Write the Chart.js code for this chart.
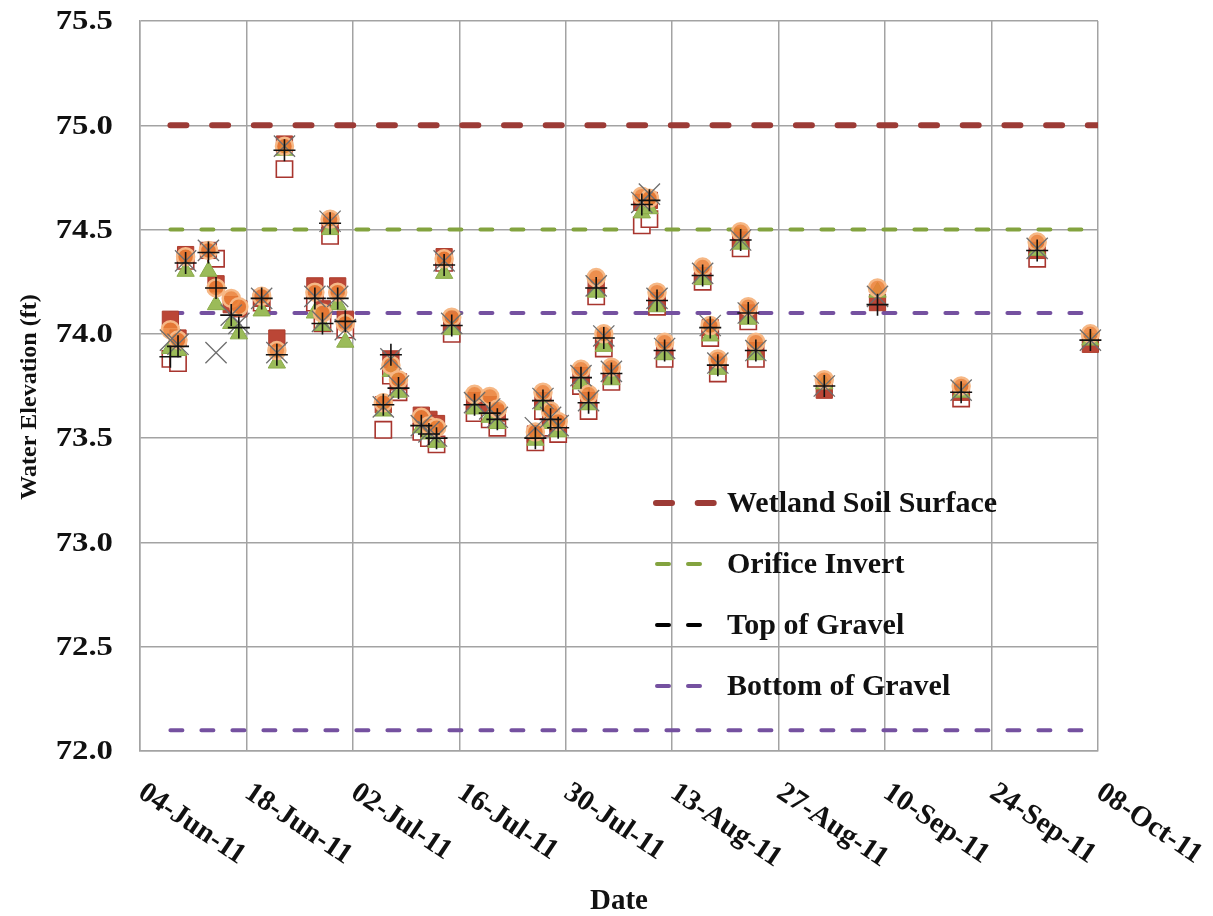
<!DOCTYPE html>
<html>
<head>
<meta charset="utf-8">
<script src="https://cdn.jsdelivr.net/npm/chart.js@4.4.1/dist/chart.umd.min.js"></script>
<style>
  html, body { margin: 0; padding: 0; background: #ffffff; }
  #wrap { width: 1213px; height: 916px; position: relative; }
</style>
</head>
<body>
<div id="wrap"><canvas id="chart" width="1213" height="916"></canvas></div>
<script>
// Date axis: values are days after 04-Jun-11, one gridline every 14 days
const tickDays = [0, 14, 28, 42, 56, 70, 84, 98, 112, 126];
const tickLabels = ['04-Jun-11', '18-Jun-11', '02-Jul-11', '16-Jul-11', '30-Jul-11',
                    '13-Aug-11', '27-Aug-11', '10-Sep-11', '24-Sep-11', '08-Oct-11'];

// Elevation axis (ft)
const yMin = 72.0;
const yMax = 75.5;
const yStep = 0.5;
const yTitle = 'Water Elevation (ft)';
const xTitle = 'Date';

// Sampling days (days after 04-Jun-11)
const sampleDays = [4, 5, 6, 9, 10, 12, 13, 16, 18, 19,
                    23, 24, 25, 26, 27, 32, 33, 34, 37, 38,
                    39, 40, 41, 44, 46, 47, 52, 53, 54, 55,
                    58, 59, 60, 61, 62, 66, 67, 68, 69, 74,
                    75, 76, 79, 80, 81, 90, 97, 108, 118, 125];

// Water elevations (ft) at each well
const wellA = [74.07, 73.98, 74.38, 74.40, 74.24, 74.14, 74.12, 74.17, 73.98, 74.91,
               74.23, 74.12, 74.52, 74.23, 74.07, 73.66, 73.88, 73.77, 73.61, 73.59,
               73.57, 74.37, 74.06, 73.68, 73.66, 73.62, 73.52, 73.68, 73.60, 73.57,
               73.80, 73.68, 74.22, 73.97, 73.81, 74.63, 74.64, 74.16, 73.92, 74.28,
               74.03, 73.85, 74.45, 74.10, 73.92, 73.73, 74.15, 73.72, 74.40, 73.95];
const wellB = [73.88, 73.86, 74.35, null, 74.36, null, null, 74.15, null, 74.79,
               74.15, 74.05, 74.47, null, 74.02, 73.54, 73.80, 73.72, 73.53, 73.50,
               73.47, 74.34, 74.00, 73.62, 73.59, 73.55, 73.48, 73.63, 73.55, 73.52,
               73.75, 73.63, 74.18, 73.93, 73.77, 74.52, 74.55, 74.13, 73.88, 74.25,
               73.98, 73.81, 74.41, 74.06, 73.88, null, null, 73.69, 74.36, null];
const wellC = [73.93, 73.92, 74.30, 74.30, 74.14, 74.05, 74.00, 74.11, 73.86, 74.88,
               74.10, 74.04, 74.50, 74.14, 73.96, 73.63, 73.82, 73.72, 73.55, 73.52,
               73.48, 74.29, 74.02, 73.64, 73.60, 73.57, 73.49, 73.66, 73.57, 73.53,
               73.76, 73.66, 74.20, 73.94, 73.78, 74.58, 74.60, 74.13, 73.90, 74.26,
               73.99, 73.83, 74.43, 74.07, 73.90, 73.76, 74.20, 73.72, 74.40, 73.97];
const wellD = [74.02, 73.97, 74.37, 74.40, 74.22, 74.17, 74.13, 74.18, 73.92, 74.90,
               74.20, 74.10, 74.55, 74.20, 74.05, 73.67, 73.85, 73.78, 73.60, 73.56,
               73.55, 74.36, 74.08, 73.71, 73.70, 73.64, 73.53, 73.72, 73.63, 73.58,
               73.83, 73.71, 74.27, 74.00, 73.84, 74.66, 74.65, 74.20, 73.96, 74.32,
               74.04, 73.88, 74.49, 74.13, 73.96, 73.78, 74.22, 73.75, 74.44, 74.00];
const wellE = [73.97, 73.95, 74.35, 74.40, 73.91, 74.09, 74.05, 74.17, 73.91, 74.90,
               74.18, 74.06, 74.54, 74.18, 74.02, 73.65, 73.88, 73.75, 73.56, 73.53,
               73.51, 74.35, 74.05, 73.67, 73.64, 73.60, 73.55, 73.69, 73.60, 73.56,
               73.80, 73.68, 74.23, 73.99, 73.82, 74.63, 74.67, 74.17, 73.93, 74.29,
               74.04, 73.86, 74.45, 74.10, 73.92, 73.75, 74.18, 73.73, 74.41, 73.97];
const wellF = [73.89, 73.94, 74.34, 74.39, 74.22, 74.09, 74.03, 74.17, 73.90, 74.88,
               74.17, 74.05, 74.53, 74.17, 74.06, 73.66, 73.90, 73.74, 73.56, 73.52,
               73.50, 74.33, 74.04, 73.66, 73.62, 73.59, 73.50, 73.68, 73.59, 73.55,
               73.79, 73.67, 74.22, 73.98, 73.81, 74.62, 74.64, 74.16, 73.92, 74.28,
               74.03, 73.85, 74.45, 74.10, 73.92, 73.75, 74.14, 73.72, 74.40, 73.97];

// Reference elevations (ft) and the span of days they are drawn over
const referenceNames = ['Wetland Soil Surface', 'Orifice Invert', 'Top of Gravel', 'Bottom of Gravel'];
const referenceLevels = [75.0, 74.5, 74.1, 72.1];
const referenceSpan = [4, 126];

const SERIF = '"Liberation Serif", "Times New Roman", serif';

function points(values) {
  const out = [];
  values.forEach((v, i) => { if (v !== null) out.push({ x: sampleDays[i], y: v }); });
  return out;
}
function levelLine(level) {
  return referenceSpan.map(d => ({ x: d, y: level }));
}

const wellStyles = [
  { data: wellF, pointStyle: 'cross',    radius: 11, bg: '#111111', border: '#111111', bw: 1.6, order: 1 },
  { data: wellE, pointStyle: 'crossRot', radius: 15, bg: '#6e6e6e', border: '#6e6e6e', bw: 1.3, order: 2 },
  { data: wellD, pointStyle: 'circle',   radius: 8.5, bg: 'rgba(234,128,54,0.88)', border: '#f6b886', bw: 2.5, order: 3 },
  { data: wellC, pointStyle: 'triangle', radius: 10, bg: '#9bbb59', border: '#8aab4a', bw: 1, order: 4 },
  { data: wellA, pointStyle: 'rect',     radius: 11.5, bg: '#bb4636', border: '#ad3d2d', bw: 1, order: 5 },
  { data: wellB, pointStyle: 'rect',     radius: 11.5, bg: '#ffffff', border: '#a8352e', bw: 1.6, order: 6 }
];

const lineStyles = [
  { color: '#9c3b36', legendColor: '#9c3b36', width: 6, dash: [16, 25.7] },
  { color: '#83a33f', legendColor: '#83a33f', width: 4, dash: [12, 19] },
  { color: '#7551a0', legendColor: '#000000', width: 4, dash: [12, 19] },
  { color: '#7551a0', legendColor: '#7551a0', width: 4, dash: [12, 19] }
];

const datasets = [];
wellStyles.forEach(s => {
  datasets.push({
    type: 'scatter',
    data: points(s.data),
    pointStyle: s.pointStyle,
    pointRadius: s.radius,
    pointBackgroundColor: s.bg,
    pointBorderColor: s.border,
    pointBorderWidth: s.bw,
    showLine: false,
    order: s.order,
    clip: false
  });
});
referenceLevels.forEach((lvl, i) => {
  const st = lineStyles[i];
  datasets.push({
    type: 'line',
    label: referenceNames[i],
    data: levelLine(lvl),
    borderColor: st.color,
    borderWidth: st.width,
    borderDash: st.dash,
    borderCapStyle: 'round',
    pointRadius: 0,
    fill: false,
    order: 10 + (referenceLevels.length - i),
    legendColor: st.legendColor,
    inLegend: true
  });
});

// Elevation tick labels and the vertical axis title
const elevationLabelsPlugin = {
  id: 'elevationLabels',
  afterDraw(chart) {
    const s = chart.scales.y;
    const ctx = chart.ctx;
    ctx.save();
    ctx.font = 'bold 28px ' + SERIF;
    ctx.fillStyle = '#111111';
    ctx.textAlign = 'right';
    ctx.textBaseline = 'middle';
    s.ticks.forEach(t => {
      const py = s.getPixelForValue(t.value);
      ctx.save();
      ctx.translate(s.right - 27, py + 1);
      ctx.scale(1.17, 1);
      ctx.fillText(Number(t.value).toFixed(1), 0, 0);
      ctx.restore();
    });
    const mid = (s.top + s.bottom) / 2 + 11;
    ctx.translate(30, mid);
    ctx.rotate(-Math.PI / 2);
    ctx.font = 'bold 24px ' + SERIF;
    ctx.textAlign = 'center';
    ctx.fillText(yTitle, 0, 0);
    ctx.restore();
  }
};

// Rotated date labels, running down and to the right from each gridline
const dateLabelsPlugin = {
  id: 'dateLabels',
  afterDraw(chart) {
    const s = chart.scales.x;
    const ctx = chart.ctx;
    ctx.save();
    ctx.font = 'bold 29px ' + SERIF;
    ctx.fillStyle = '#111111';
    ctx.textAlign = 'left';
    ctx.textBaseline = 'top';
    tickDays.forEach((d, i) => {
      const px = s.getPixelForValue(d);
      ctx.save();
      ctx.translate(px + 9, s.top + 27);
      ctx.rotate(34 * Math.PI / 180);
      ctx.fillText(tickLabels[i], 0, 0);
      ctx.restore();
    });
    ctx.restore();
  }
};

// Legend for the reference lines, placed inside the plot area
const lineLegendPlugin = {
  id: 'lineLegend',
  afterDraw(chart) {
    const ctx = chart.ctx;
    const area = chart.chartArea;
    const xText = area.left + 587;
    const y0 = area.top + 482;
    const step = 61;
    ctx.save();
    chart.data.datasets.filter(ds => ds.inLegend).forEach((ds, i) => {
      const y = y0 + i * step;
      const w = ds.borderWidth;
      const dash = ds.borderDash;
      const x0 = i === 0 ? area.left + 513 : area.left + 515;
      ctx.save();
      ctx.strokeStyle = ds.legendColor;
      ctx.lineWidth = w;
      ctx.lineCap = 'round';
      ctx.setLineDash(dash);
      ctx.beginPath();
      ctx.moveTo(x0 + w / 2, y);
      ctx.lineTo(x0 + w / 2 + 2 * dash[0] + dash[1], y);
      ctx.stroke();
      ctx.restore();
      ctx.font = 'bold 30px ' + SERIF;
      ctx.fillStyle = '#111111';
      ctx.textAlign = 'left';
      ctx.textBaseline = 'middle';
      ctx.fillText(ds.label, xText, y + 1);
    });
    ctx.restore();
  }
};

new Chart(document.getElementById('chart'), {
  type: 'scatter',
  data: { datasets },
  options: {
    responsive: false,
    animation: false,
    events: [],
    layout: { padding: { top: 21, right: 115, left: 0, bottom: 0 } },
    plugins: { legend: { display: false }, tooltip: { enabled: false } },
    scales: {
      x: {
        type: 'linear',
        min: tickDays[0],
        max: tickDays[tickDays.length - 1],
        afterBuildTicks: s => { s.ticks = tickDays.map(v => ({ value: v })); },
        afterFit: s => { s.height = 165; },
        ticks: { display: false },
        grid: { color: '#a3a3a3', lineWidth: 1.5, drawTicks: false },
        border: { color: '#a3a3a3', width: 1.5 },
        title: {
          display: true, text: xTitle, color: '#111111',
          font: { family: SERIF, size: 29, weight: 'bold' },
          padding: { top: 0, bottom: -3 }
        }
      },
      y: {
        min: yMin,
        max: yMax,
        afterFit: s => { s.width = 140; },
        ticks: { display: false, stepSize: yStep },
        grid: { color: '#a3a3a3', lineWidth: 1.5, drawTicks: false },
        border: { color: '#a3a3a3', width: 1.5 },
        title: { display: false }
      }
    }
  },
  plugins: [elevationLabelsPlugin, dateLabelsPlugin, lineLegendPlugin]
});
</script>
</body>
</html>
